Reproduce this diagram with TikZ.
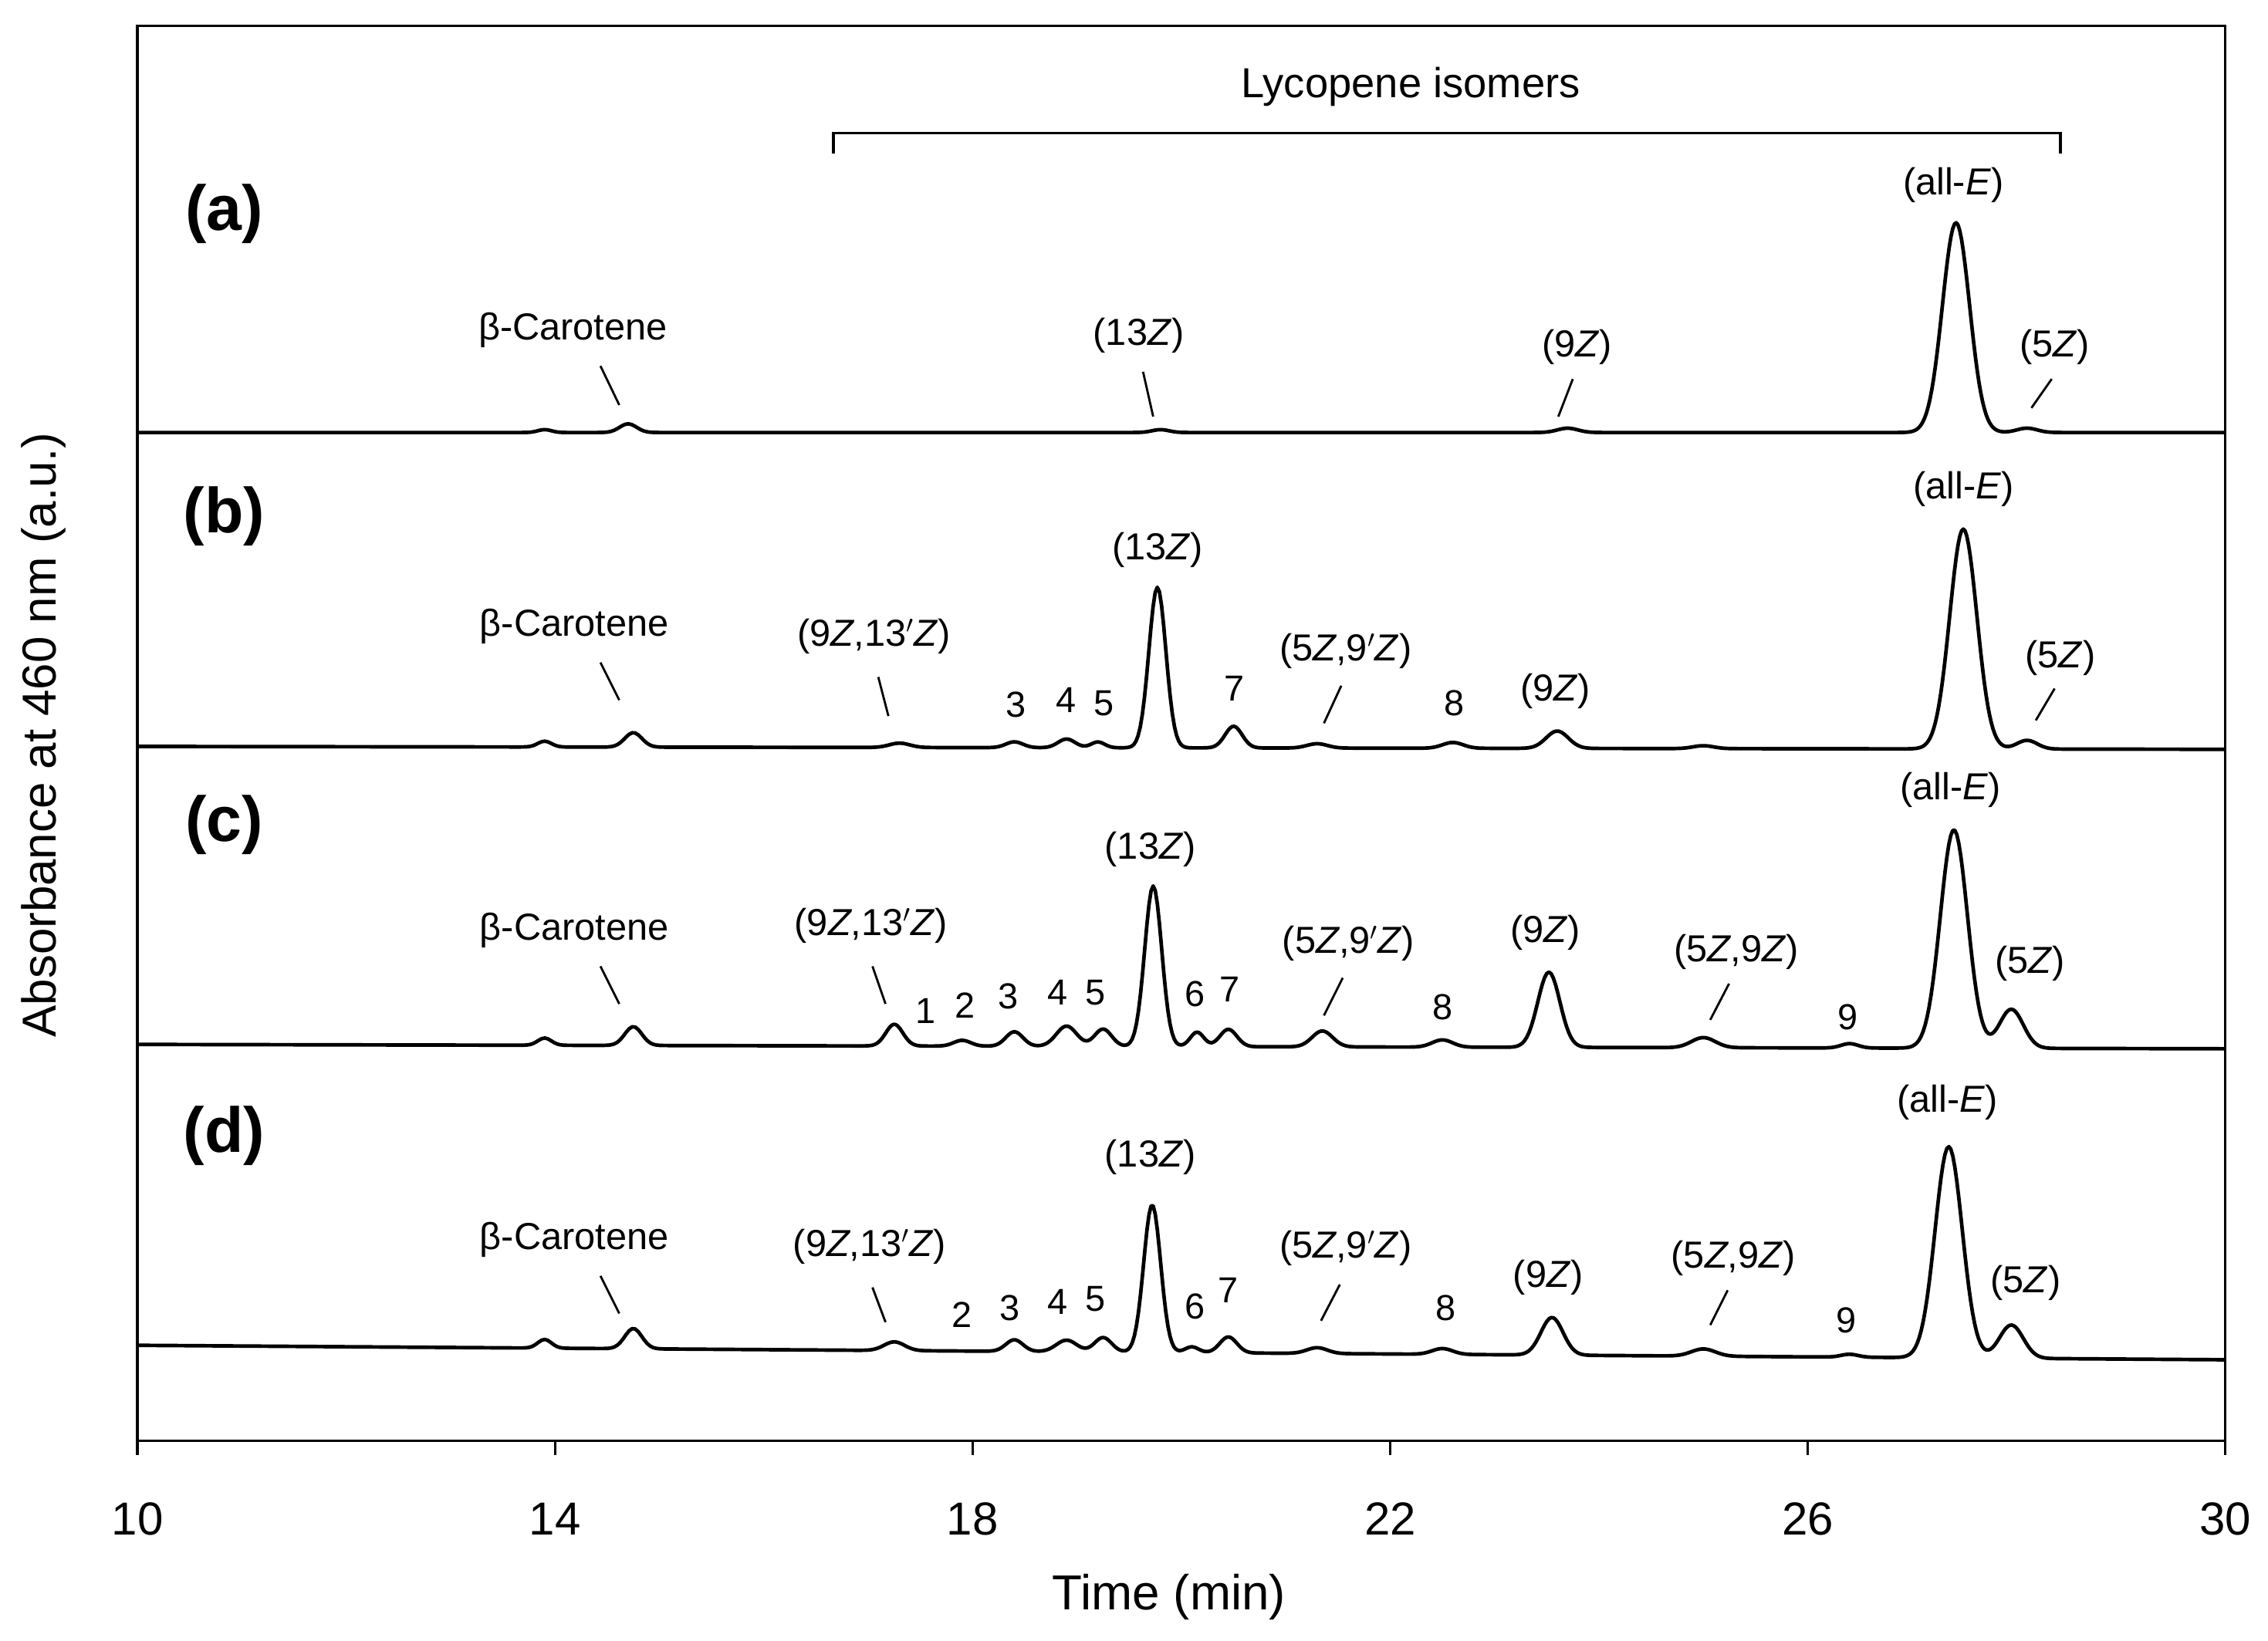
\documentclass[tikz,border=0pt]{standalone}
\usepackage{fontspec}
\setmainfont{Liberation Sans}
\newcommand{\Zi}{\textit{Z}}
\newcommand{\Ei}{\textit{E}}
\newcommand{\lseg}[2]{-- ({X(#1)},{B(#1)}) -- ({X(#2)},{B(#2)})}
\newcommand{\pseg}[4]{-- plot[domain=#1:#2,samples=#3] ({X(\x)},{B(\x)+#4})}
\begin{document}
\begin{tikzpicture}[x=1pt,y=1pt,
  declare function={q(\u)=\u*\u;
                    g(\t,\c,\w)=exp(-q(min(abs(\t-\c)/(1.15*\w),7)));
                    X(\t)=95+(\t-10)*72.15;},
  lbl/.style={font=\fontsize{26}{29}\selectfont, inner sep=0pt},
  num/.style={font=\fontsize{25}{28}\selectfont, inner sep=0pt},
  pan/.style={font=\fontsize{44}{48}\selectfont\bfseries, inner sep=0pt},
  tick/.style={font=\fontsize{32}{36}\selectfont, inner sep=0pt},
  trace/.style={line width=2.5pt, line join=round},
  ptr/.style={line width=1.5pt}]
\useasboundingbox (0,0) rectangle (1567.5,-1134);
% frame
\draw[line width=1.8pt] (95,-18) rectangle (1538,-996);
\foreach \v/\xx in {10/95,14/383.6,18/672.2,22/960.8,26/1249.4,30/1538}{
  \draw[line width=1.8pt] (\xx,-996) -- (\xx,-1006);
  \node[tick] (t\v) at (\xx,-1050) {\v};}
\node[tick, font=\fontsize{34}{38}\selectfont] (xl) at (808,-1104) {Time (min)};
\node[tick, font=\fontsize{33}{38}\selectfont, rotate=90] (yl) at (30,-508) {Absorbance at 460 nm (a.u.)};
% bracket
\node[lbl, font=\fontsize{29}{32}\selectfont] (lyc) at (975,-60) {Lycopene isomers};
\draw[line width=1.8pt] (576,-106) -- (576,-92) -- (1424,-92) -- (1424,-106);
% trace a
\begin{scope}[declare function={B(\t)=-299;}]
\draw[trace] ({X(10)},{B(10)}) \lseg{10}{13.5}
 \pseg{13.5}{15.2}{60}{2*g(\x,13.9,0.08)+6*g(\x,14.7,0.1)}
 \lseg{15.2}{19.3}
 \pseg{19.3}{20.3}{30}{2*g(\x,19.8,0.1)}
 \lseg{20.3}{23.2}
 \pseg{23.2}{24.2}{30}{3*g(\x,23.7,0.12)}
 \lseg{24.2}{26.5}
 \pseg{26.5}{29}{150}{145*g(\x,27.42,0.16)+3*g(\x,28.1,0.12)}
 \lseg{29}{30};
\end{scope}
% trace b
\begin{scope}[declare function={B(\t)=-518+0.1*(30-\t);}]
\draw[trace] ({X(10)},{B(10)}) \lseg{10}{13.5}
 \pseg{13.5}{15.2}{60}{4*g(\x,13.9,0.08)+10*g(\x,14.75,0.1)}
 \lseg{15.2}{16.8}
 \pseg{16.8}{21.9}{250}{3*g(\x,17.3,0.12)+4*g(\x,18.4,0.1)+6*g(\x,18.9,0.1)+4*g(\x,19.2,0.08)+111*g(\x,19.77,0.1)+15*g(\x,20.5,0.1)+3*g(\x,21.3,0.12)}
 \lseg{21.9}{22.1}
 \pseg{22.1}{24.2}{80}{4*g(\x,22.6,0.12)+12*g(\x,23.6,0.13)}
 \lseg{24.2}{24.5}
 \pseg{24.5}{25.5}{30}{2*g(\x,25,0.12)}
 \lseg{25.5}{26.5}
 \pseg{26.5}{29}{150}{152*g(\x,27.49,0.16)+6*g(\x,28.1,0.12)}
 \lseg{29}{30};
\end{scope}
% trace c
\begin{scope}[declare function={B(\t)=-725+0.15*(30-\t);}]
\draw[trace] ({X(10)},{B(10)}) \lseg{10}{13.5}
 \pseg{13.5}{15.2}{60}{5*g(\x,13.9,0.08)+13*g(\x,14.75,0.1)}
 \lseg{15.2}{16.7}
 \pseg{16.7}{22.1}{270}{15*g(\x,17.25,0.1)+4*g(\x,17.9,0.1)+10*g(\x,18.4,0.1)+14*g(\x,18.9,0.12)+12*g(\x,19.25,0.1)+111*g(\x,19.73,0.1)+10*g(\x,20.15,0.08)+12*g(\x,20.45,0.1)+11*g(\x,21.35,0.12)}
 \pseg{22.1}{24.2}{100}{5*g(\x,22.5,0.12)+52*g(\x,23.52,0.13)}
 \lseg{24.2}{24.4}
 \pseg{24.4}{25.6}{40}{7*g(\x,25,0.14)}
 \lseg{25.6}{25.8}
 \pseg{25.8}{29}{170}{3*g(\x,26.4,0.1)+151*g(\x,27.4,0.16)+27*g(\x,27.95,0.14)}
 \lseg{29}{30};
\end{scope}
% trace d
\begin{scope}[declare function={B(\t)=-930-0.5*(\t-10);}]
\draw[trace] ({X(10)},{B(10)}) \lseg{10}{13.5}
 \pseg{13.5}{15.2}{60}{6*g(\x,13.9,0.08)+14*g(\x,14.75,0.1)}
 \lseg{15.2}{16.7}
 \pseg{16.7}{22.1}{270}{6*g(\x,17.25,0.12)+8*g(\x,18.4,0.1)+8*g(\x,18.9,0.12)+10*g(\x,19.25,0.1)+102*g(\x,19.72,0.1)+4*g(\x,20.1,0.08)+11*g(\x,20.45,0.1)+4*g(\x,21.3,0.12)}
 \pseg{22.1}{24.2}{100}{4*g(\x,22.5,0.12)+26*g(\x,23.55,0.13)}
 \lseg{24.2}{24.4}
 \pseg{24.4}{25.6}{40}{5*g(\x,25,0.14)}
 \lseg{25.6}{25.8}
 \pseg{25.8}{29}{170}{2*g(\x,26.4,0.1)+146*g(\x,27.35,0.16)+23*g(\x,27.95,0.14)}
 \lseg{29}{30};
\end{scope}
% panel (a)
\node[pan] (pa) at (155,-148) {(a)};
\node[lbl] (a1) at (396,-228) {β-Carotene}; \draw[ptr] (415,-253) -- (428,-280);
\node[lbl] (a2) at (787,-232) {(13\Zi)}; \draw[ptr] (790,-257) -- (797,-288);
\node[lbl] (a3) at (1090,-240) {(9\Zi)}; \draw[ptr] (1087,-262) -- (1077,-288);
\node[lbl] (a4) at (1350,-128) {(all-\Ei)};
\node[lbl] (a5) at (1420,-240) {(5\Zi)}; \draw[ptr] (1418,-262) -- (1404,-282);
% panel (b)
\node[pan] (pb) at (155,-357) {(b)};
\node[lbl] (b1) at (397,-433) {β-Carotene}; \draw[ptr] (415,-458) -- (428,-484);
\node[lbl] (b2) at (604,-440) {(9\Zi,13$'$\Zi)}; \draw[ptr] (607,-468) -- (614,-495);
\node[num] at (702,-487) {3}; \node[num] at (737,-484) {4}; \node[num] at (763,-486) {5};
\node[lbl] (b3) at (800,-380) {(13\Zi)};
\node[num] at (853,-476) {7};
\node[lbl] (b4) at (930,-450) {(5\Zi,9$'$\Zi)}; \draw[ptr] (927,-474) -- (915,-500);
\node[num] at (1005,-486) {8};
\node[lbl] (b5) at (1075,-478) {(9\Zi)};
\node[lbl] (b6) at (1357,-338) {(all-\Ei)};
\node[lbl] (b7) at (1424,-455) {(5\Zi)}; \draw[ptr] (1420,-476) -- (1407,-498);
% panel (c)
\node[pan] (pc) at (155,-570) {(c)};
\node[lbl] (c1) at (397,-643) {β-Carotene}; \draw[ptr] (415,-668) -- (428,-694);
\node[lbl] (c2) at (602,-640) {(9\Zi,13$'$\Zi)}; \draw[ptr] (603,-668) -- (612,-694);
\node[num] at (640,-699) {1}; \node[num] at (667,-695) {2}; \node[num] at (697,-689) {3};
\node[num] at (731,-686) {4}; \node[num] at (757,-686) {5};
\node[lbl] (c3) at (795,-587) {(13\Zi)};
\node[num] at (826,-687) {6}; \node[num] at (850,-684) {7};
\node[lbl] (c4) at (932,-652) {(5\Zi,9$'$\Zi)}; \draw[ptr] (928,-676) -- (915,-702);
\node[num] at (997,-696) {8};
\node[lbl] (c5) at (1068,-645) {(9\Zi)};
\node[lbl] (c6) at (1200,-658) {(5\Zi,9\Zi)}; \draw[ptr] (1195,-680) -- (1182,-705);
\node[num] at (1277,-703) {9};
\node[lbl] (c7) at (1348,-546) {(all-\Ei)};
\node[lbl] (c8) at (1403,-666) {(5\Zi)};
% panel (d)
\node[pan] (pd) at (155,-785) {(d)};
\node[lbl] (d1) at (397,-857) {β-Carotene}; \draw[ptr] (415,-882) -- (428,-908);
\node[lbl] (d2) at (601,-862) {(9\Zi,13$'$\Zi)}; \draw[ptr] (603,-890) -- (612,-914);
\node[num] at (665,-909) {2}; \node[num] at (698,-904) {3};
\node[num] at (731,-900) {4}; \node[num] at (757,-898) {5};
\node[lbl] (d3) at (795,-800) {(13\Zi)};
\node[num] at (826,-903) {6}; \node[num] at (849,-892) {7};
\node[lbl] (d4) at (930,-863) {(5\Zi,9$'$\Zi)}; \draw[ptr] (926,-888) -- (913,-913);
\node[num] at (999,-904) {8};
\node[lbl] (d5) at (1070,-883) {(9\Zi)};
\node[lbl] (d6) at (1198,-870) {(5\Zi,9\Zi)}; \draw[ptr] (1194,-892) -- (1182,-916);
\node[num] at (1276,-913) {9};
\node[lbl] (d7) at (1346,-762) {(all-\Ei)};
\node[lbl] (d8) at (1400,-887) {(5\Zi)};
\end{tikzpicture}
\end{document}
